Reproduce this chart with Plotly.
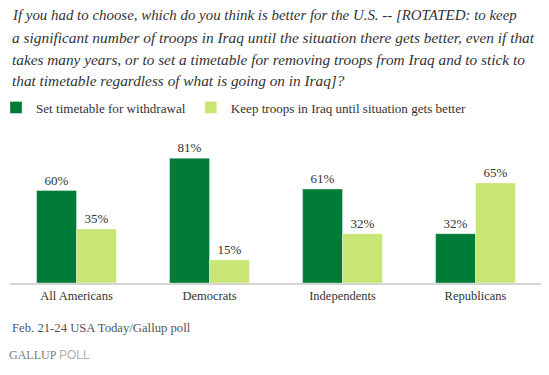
import plotly.graph_objects as go

categories = ["All Americans", "Democrats", "Independents", "Republicans"]
timetable = [60, 81, 61, 32]
keep_troops = [35, 15, 32, 65]
series_names = ["Set timetable for withdrawal",
                "Keep troops in Iraq until situation gets better"]
question_lines = [
    "If you had to choose, which do you think is better for the U.S. -- [ROTATED: to keep",
    "a significant number of troops in Iraq until the situation there gets better, even if that",
    "takes many years, or to set a timetable for removing troops from Iraq and to stick to",
    "that timetable regardless of what is going on in Iraq]?",
]
source_note = "Feb. 21-24 USA Today/Gallup poll"

# The page body has an 8px default margin; the figure is sized to fit the window.
OFF = 8
W, H = 549 - OFF, 375 - OFF
ML, MR, MT, MB = 10 - OFF, 7, 129 - OFF, 92
PW = W - ML - MR
PH = H - MT - MB

def px(x):
    return (x - OFF - ML) / PW

def py(y):
    return (H - MB - (y - OFF)) / PH

SERIF = "Liberation Serif"
DARK = "#007A37"
LIGHT = "#C8E673"

fig = go.Figure()
for name, vals, col in [(series_names[0], timetable, DARK),
                        (series_names[1], keep_troops, LIGHT)]:
    fig.add_bar(
        x=categories, y=vals, name=name,
        marker=dict(color=col, line=dict(color="rgba(255,255,255,0.35)", width=1)),
        text=[f"{v}%" for v in vals], textposition="outside",
        textfont=dict(family=SERIF, size=13, color="#333333"),
        cliponaxis=False, hoverinfo="skip",
    )

annotations = []
for line, yc, fs in zip(question_lines, [15, 37, 59, 80.5], [14.9, 15.4, 15.3, 15.3]):
    annotations.append(dict(
        text=f"<i>{line}</i>", xref="paper", yref="paper",
        x=px(10), y=py(yc), xanchor="left", yanchor="middle",
        showarrow=False, font=dict(family=SERIF, size=fs, color="#333333"),
    ))
annotations.append(dict(
    text=source_note, xref="paper", yref="paper",
    x=px(10), y=py(328), xanchor="left", yanchor="middle",
    showarrow=False, font=dict(family=SERIF, size=12.7, color="#555555"),
))
annotations.append(dict(
    text='GALLUP <span style="font-family:Liberation Sans;color:#b0b0b0">POLL</span>',
    xref="paper", yref="paper",
    x=px(7), y=py(355), xanchor="left", yanchor="middle",
    showarrow=False, font=dict(family=SERIF, size=12, color="#7a7a7a"),
))

fig.update_layout(
    width=W, height=H,
    margin=dict(l=ML, r=MR, t=MT, b=MB, pad=0, autoexpand=False),
    paper_bgcolor="white", plot_bgcolor="white",
    barmode="group", bargap=0.4, bargroupgap=0,
    showlegend=True,
    legend=dict(
        orientation="h", x=px(-4), y=py(108), xanchor="left", yanchor="middle",
        font=dict(family=SERIF, size=13.1, color="#333333"),
        bgcolor="rgba(0,0,0,0)", traceorder="normal",
    ),
    xaxis=dict(
        showline=True, linecolor="#d4d4d4", linewidth=2,
        showgrid=False, zeroline=False, ticks="",
        tickfont=dict(family=SERIF, size=12.5, color="#333333"),
        fixedrange=True, automargin=False,
    ),
    yaxis=dict(range=[0, 100], visible=False, fixedrange=True, automargin=False),
    annotations=annotations,
)

fig.write_html("out.html")
